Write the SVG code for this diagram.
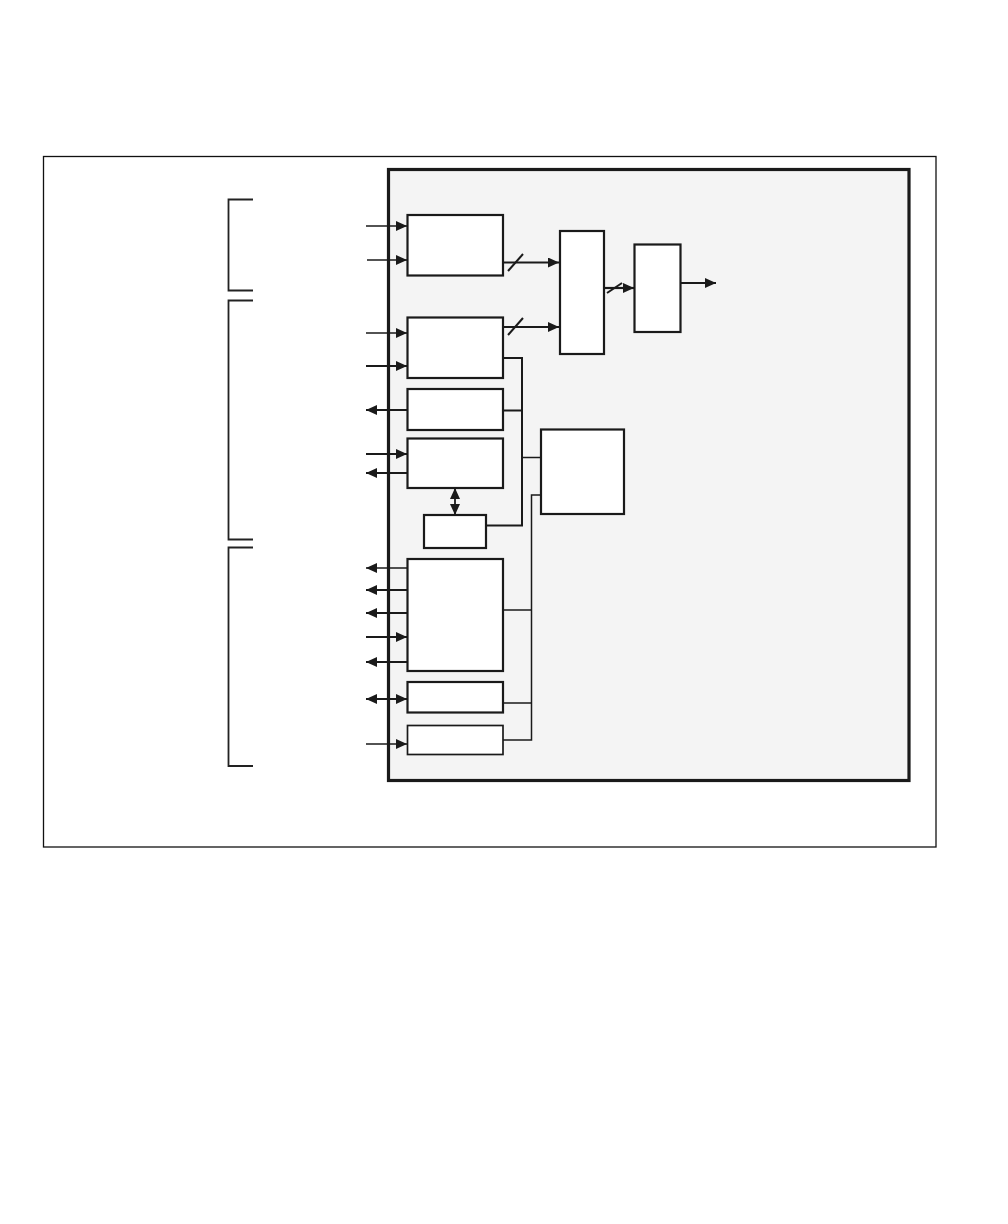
<svg xmlns="http://www.w3.org/2000/svg" width="1008" height="1224" viewBox="0 0 1008 1224">
<defs>
<marker id="ah" markerUnits="userSpaceOnUse" markerWidth="11" markerHeight="10" refX="11" refY="5" orient="auto-start-reverse" viewBox="0 0 11 10">
<path d="M0,0 L11,5 L0,10 z" fill="#1a1a1a"/>
</marker>
<style>
.box{fill:#fff;stroke:#1a1a1a;stroke-width:2.2}
.ln{fill:none;stroke:#1a1a1a;stroke-width:1.5}
.lnb{fill:none;stroke:#1a1a1a;stroke-width:2}
.arr{fill:none;stroke:#1a1a1a;stroke-width:1.4;marker-end:url(#ah)}
.arrb{fill:none;stroke:#1a1a1a;stroke-width:2.2;marker-end:url(#ah)}
.dbl{fill:none;stroke:#1a1a1a;stroke-width:1.8;marker-start:url(#ah);marker-end:url(#ah)}
.brk{fill:none;stroke:#222;stroke-width:1.8}
</style>
</defs>
<rect width="1008" height="1224" fill="#fff"/>
<rect id="frame" x="43.5" y="156.5" width="892.5" height="690.5" fill="none" stroke="#111" stroke-width="1.3"/>
<g id="brackets">
<path class="brk" d="M253,199.5 H228.5 V290.5 H253"/>
<path class="brk" d="M253,300.5 H228.5 V539.5 H253"/>
<path class="brk" d="M253,547.5 H228.5 V766 H253"/>
</g>
<rect id="chip" x="388.5" y="169.5" width="520.5" height="611" fill="#f4f4f4" stroke="#1a1a1a" stroke-width="3.2"/>
<g id="connectors">
<line class="arr" x1="366" y1="226" x2="407" y2="226"/>
<line class="arr" x1="367" y1="260" x2="407" y2="260"/>
<line class="arr" x1="366" y1="333" x2="407" y2="333"/>
<line class="arrb" x1="366" y1="366" x2="407" y2="366"/>
<line class="arrb" x1="407" y1="410" x2="366" y2="410"/>
<line class="arrb" x1="366" y1="454" x2="407" y2="454"/>
<line class="arrb" x1="407" y1="473" x2="366" y2="473"/>
<line class="dbl" x1="455" y1="488" x2="455" y2="515"/>
<line class="arr" x1="407" y1="568" x2="366" y2="568"/>
<line class="arrb" x1="407" y1="590" x2="366" y2="590"/>
<line class="arrb" x1="407" y1="613" x2="366" y2="613"/>
<line class="arrb" x1="366" y1="637" x2="407" y2="637"/>
<line class="arrb" x1="407" y1="662" x2="366" y2="662"/>
<line class="dbl" x1="366" y1="699" x2="407" y2="699"/>
<line class="arr" x1="366" y1="744" x2="407" y2="744"/>
<line class="arrb" x1="503" y1="262.5" x2="559" y2="262.5"/>
<line class="lnb" x1="508" y1="271" x2="523" y2="254"/>
<line class="arrb" x1="503" y1="327" x2="559" y2="327"/>
<line class="lnb" x1="508" y1="335" x2="523" y2="318"/>
<line class="arrb" x1="604" y1="288" x2="634" y2="288"/>
<line class="lnb" x1="607" y1="293" x2="622" y2="283"/>
<line class="arrb" x1="680" y1="283" x2="716" y2="283"/>
<path class="lnb" d="M503,358 H522 V525.5 H486"/>
<line class="lnb" x1="503" y1="410.5" x2="522" y2="410.5"/>
<line class="ln" x1="522" y1="457.5" x2="541" y2="457.5"/>
<path class="ln" d="M541,495 H531.5 V740 H503"/>
<line class="ln" x1="503" y1="610" x2="531.5" y2="610"/>
<line class="ln" x1="503" y1="703" x2="531.5" y2="703"/>
</g>
<g id="nodeA"><rect class="box" x="407.5" y="215" width="95.5" height="60.5"/></g>
<g id="nodeB"><rect class="box" x="407.5" y="317.5" width="95.5" height="60.5"/></g>
<g id="nodeMux"><rect class="box" x="560" y="231" width="44" height="123"/></g>
<g id="nodeD"><rect class="box" x="634.5" y="244.5" width="46" height="87.5"/></g>
<g id="nodeE"><rect class="box" x="407.5" y="389" width="95.5" height="41"/></g>
<g id="nodeF"><rect class="box" x="407.5" y="438.5" width="95.5" height="49.5"/></g>
<g id="nodeG"><rect class="box" x="424" y="515" width="62" height="33"/></g>
<g id="nodeH"><rect class="box" x="541" y="429.5" width="83" height="84.5"/></g>
<g id="nodeI"><rect class="box" x="407.5" y="559" width="95.5" height="112"/></g>
<g id="nodeJ"><rect class="box" x="407.5" y="682" width="95.5" height="30.5"/></g>
<g id="nodeK"><rect class="box" x="407.5" y="725.5" width="95.5" height="29" style="stroke-width:1.7"/></g>
</svg>
